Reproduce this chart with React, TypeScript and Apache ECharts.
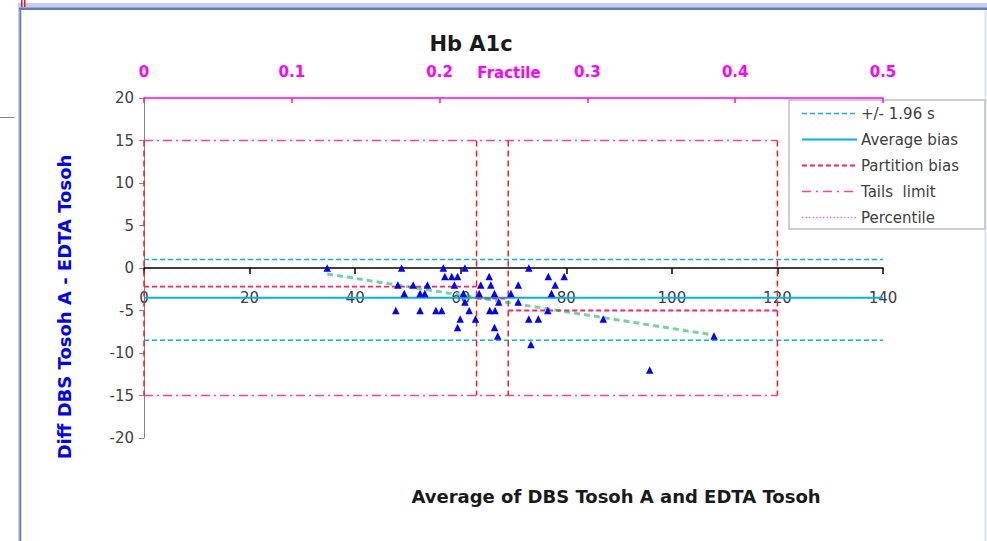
import React, { useEffect, useRef } from "react";
import * as echarts from "echarts";

// ---- data ----
const scatterX = [
  34.7, 48.8, 56.7, 60.8, 72.9,
  57.0, 58.3, 59.4, 65.4, 76.6, 79.6,
  48.1, 51.0, 53.7, 58.8, 63.8, 65.7, 70.9, 77.9,
  49.3, 52.3, 53.2, 60.5, 63.5, 66.4, 69.5, 77.2,
  60.8, 67.2, 70.9,
  47.7, 52.3, 55.3, 56.4, 61.6, 65.5, 66.5, 76.5,
  59.9, 62.8, 72.9, 74.7, 87.0,
  59.4, 66.4,
  67.0, 108.0,
  73.3,
  95.8,
];
const scatterY = [
  0, 0, 0, 0, 0,
  -1, -1, -1, -1, -1, -1,
  -2, -2, -2, -2, -2, -2, -2, -2,
  -3, -3, -3, -3, -3, -3, -3, -3,
  -4, -4, -4,
  -5, -5, -5, -5, -5, -5, -5, -5,
  -6, -6, -6, -6, -6,
  -7, -7,
  -8, -8,
  -9,
  -12,
];
const xTickRange = [0, 140, 20];
const yTickRange = [-20, 20, 5];
const fractileRange = [0, 0.5, 0.1];
const sdLimits = [1.0, -8.5];
const averageBias = -3.5;
const partitionBreaks = [0, 63, 69, 120];
const partitionBias = [-2.2, -3.6, -5.0];
const tailsLimits = [15, -15];
const trendX = [34.7, 108.0];
const trendY = [-0.7, -7.9];
const legendLabels = ["+/- 1.96 s", "Average bias", "Partition bias", "Tails  limit", "Percentile"];

const FONT = "DejaVu Sans";
const C_SD = "#00B0F0";
const C_PART = "#FF1F66";
const C_VERT = "#FF1A1A";
const C_TAIL = "#FF3DAA";
const C_PERC = "#FF66FF";
const C_TREND = "rgba(0,176,80,0.55)";

function seg(name: string, pts: number[][], color: string, width: number, type: any, z = 2) {
  return {
    name,
    type: "line",
    data: pts,
    symbol: "none",
    silent: true,
    z,
    lineStyle: { color, width, type },
  };
}

export default function App() {
  const ref = useRef<HTMLDivElement>(null);
  useEffect(() => {
    if (!ref.current) return;
    const chart = echarts.init(ref.current, undefined, { renderer: "svg" });
    const xMin = xTickRange[0];
    const xMax = xTickRange[1];
    const series: any[] = [];
    sdLimits.forEach((v) => series.push(seg("+/- 1.96 s", [[xMin, v], [xMax, v]], C_SD, 1.5, [5, 3])));
    series.push(seg("Average bias", [[xMin, averageBias], [xMax, averageBias]], C_SD, 2, "solid"));
    tailsLimits.forEach((v) =>
      series.push(seg("Tails limit", [[partitionBreaks[0], v], [partitionBreaks[partitionBreaks.length - 1], v]], C_TAIL, 1.3, [9, 4, 2, 4]))
    );
    partitionBreaks.forEach((b) =>
      series.push(seg("Partition", [[b, tailsLimits[0]], [b, tailsLimits[1]]], C_VERT, 1.5, [6, 4], 3))
    );
    partitionBias.forEach((v, i) =>
      series.push(seg("Partition bias", [[partitionBreaks[i], v], [partitionBreaks[i + 1], v]], C_PART, 1.8, [5, 3], 3))
    );
    series.push(seg("Trend", [[trendX[0], trendY[0]], [trendX[1], trendY[1]]], C_TREND, 3, [6, 4], 4));
    series.push({
      name: "Data",
      type: "scatter",
      symbol: "triangle",
      symbolSize: 7.5,
      z: 6,
      itemStyle: { color: "#0000FF", opacity: 1 },
      data: scatterX.map((x, i) => [x, scatterY[i]]),
    });

    const legendStyles: any[] = [
      { stroke: C_SD, lineWidth: 1.5, lineDash: [5, 3] },
      { stroke: C_SD, lineWidth: 2 },
      { stroke: C_PART, lineWidth: 2, lineDash: [5, 3] },
      { stroke: C_TAIL, lineWidth: 1.5, lineDash: [9, 5, 2, 5] },
      { stroke: C_PERC, lineWidth: 1.5, lineDash: [1.5, 2] },
    ];
    const legendChildren: any[] = [
      { type: "rect", shape: { x: 789, y: 100, width: 196, height: 129 }, style: { fill: "#fff", stroke: "#BFBFBF", lineWidth: 1.5 } },
    ];
    legendLabels.forEach((t, i) => {
      const y = 113.5 + i * 26;
      legendChildren.push({ type: "line", shape: { x1: 802, y1: y, x2: 857, y2: y }, style: legendStyles[i] });
      legendChildren.push({
        type: "text",
        x: 861,
        y: y,
        style: { text: t, fill: "#404040", font: `15px "${FONT}"`, align: "left", verticalAlign: "middle" },
      });
    });

    chart.setOption({
      animation: false,
      backgroundColor: "#ffffff",
      title: {
        text: "Hb A1c",
        left: 471,
        top: 33,
        textAlign: "center",
        padding: 0,
        textStyle: { fontFamily: FONT, fontWeight: "bold", fontSize: 21, color: "#1a1a1a" },
      },
      grid: { left: 144, right: 104, top: 98, bottom: 103, containLabel: false },
      xAxis: [
        {
          type: "value",
          position: "bottom",
          offset: -170,
          min: xTickRange[0],
          max: xTickRange[1],
          interval: xTickRange[2],
          axisLine: { onZero: false, lineStyle: { color: "#000", width: 1.5 } },
          axisTick: { show: true, length: 6, lineStyle: { color: "#000", width: 1.5 } },
          axisLabel: { color: "#404040", fontFamily: FONT, fontSize: 15, margin: 22 },
          splitLine: { show: false },
        },
        {
          type: "value",
          position: "top",
          min: fractileRange[0],
          max: fractileRange[1],
          interval: fractileRange[2],
          axisLine: { onZero: false, lineStyle: { color: "#FF00FF", width: 1.5 } },
          axisTick: { show: true, inside: true, length: 5, lineStyle: { color: "#FF00FF", width: 1.5 } },
          axisLabel: { color: "#FF00FF", fontFamily: FONT, fontWeight: "bold", fontSize: 15, margin: 19 },
          splitLine: { show: false },
        },
      ],
      yAxis: {
        type: "value",
        min: yTickRange[0],
        max: yTickRange[1],
        interval: yTickRange[2],
        axisLine: { show: true, onZero: false, lineStyle: { color: "#868686", width: 1 } },
        axisTick: { show: true, length: 5, lineStyle: { color: "#868686" } },
        axisLabel: { color: "#404040", fontFamily: FONT, fontSize: 15, margin: 10 },
        splitLine: { show: false },
      },
      series,
      graphic: [
        { type: "rect", shape: { x: 19, y: 3, width: 968, height: 5 }, style: { fill: "#C9CBF2" }, silent: true },
        { type: "line", shape: { x1: 19, y1: 8.7, x2: 987, y2: 8.7 }, style: { stroke: "#6381AE", lineWidth: 2.5 }, silent: true },
        { type: "line", shape: { x1: 18.5, y1: 3, x2: 18.5, y2: 541 }, style: { stroke: "#C9CBF2", lineWidth: 1 }, silent: true },
        { type: "line", shape: { x1: 20.3, y1: 8, x2: 20.3, y2: 541 }, style: { stroke: "#6381AE", lineWidth: 2 }, silent: true },
        { type: "line", shape: { x1: 985.5, y1: 10, x2: 985.5, y2: 541 }, style: { stroke: "#DCE6F0", lineWidth: 2 }, silent: true },
        { type: "rect", shape: { x: 21, y: 0, width: 1.5, height: 7 }, style: { fill: "#E02020" }, silent: true },
        { type: "rect", shape: { x: 24, y: 0, width: 1.5, height: 7 }, style: { fill: "#E02020" }, silent: true },
        { type: "line", shape: { x1: 0, y1: 117.5, x2: 14, y2: 117.5 }, style: { stroke: "#7F7F7F", lineWidth: 1 }, silent: true },
        {
          type: "text",
          x: 509,
          y: 73,
          style: { text: "Fractile", fill: "#FF00FF", font: `bold 15px "${FONT}"`, align: "center", verticalAlign: "middle" },
        },
        {
          type: "text",
          x: 64,
          y: 307,
          rotation: Math.PI / 2,
          style: { text: "Diff DBS Tosoh A - EDTA Tosoh", fill: "#0000FF", font: `bold 18px "${FONT}"`, align: "center", verticalAlign: "middle" },
        },
        {
          type: "text",
          x: 616,
          y: 496,
          style: { text: "Average of DBS Tosoh A and EDTA Tosoh", fill: "#1a1a1a", font: `bold 18px "${FONT}"`, align: "center", verticalAlign: "middle" },
        },
        { type: "group", z: 100, children: legendChildren },
      ],
    });
    return () => chart.dispose();
  }, []);
  return <div ref={ref} style={{ position: "absolute", left: 0, top: 0, width: 987, height: 541 }} />;
}
